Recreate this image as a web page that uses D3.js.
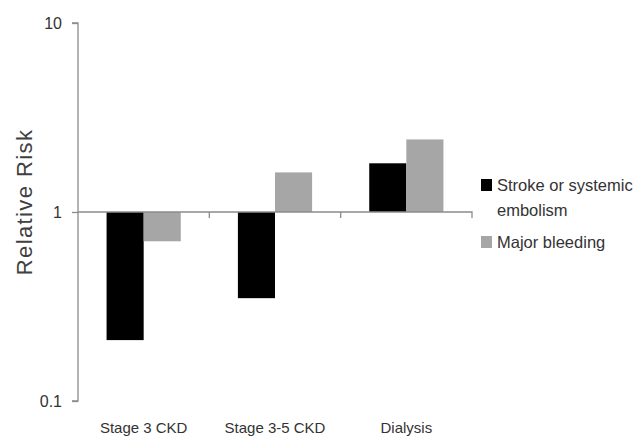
<!DOCTYPE html>
<html>
<head>
<meta charset="utf-8">
<script src="https://cdn.jsdelivr.net/npm/d3@7"></script>
<style>
  body { margin: 0; background: #fff; }
  svg { display: block; font-family: "Liberation Sans Narrow", "Liberation Sans", "DejaVu Sans Condensed", sans-serif; }
</style>
</head>
<body>
<svg id="chart" width="635" height="437"></svg>
<script>
// Relative risk by kidney function group (log scale, bars drawn from RR = 1)
const categories = ["Stage 3 CKD", "Stage 3-5 CKD", "Dialysis"];
const seriesNames = ["Stroke or systemic embolism", "Major bleeding"];
const strokeRR = [0.21, 0.35, 1.81];
const bleedingRR = [0.70, 1.62, 2.42];
const yTicks = [0.1, 1, 10];
const colors = ["#000000", "#a6a6a6"];

const svg = d3.select("#chart");
const plotLeft = 78, plotRight = 472, plotTop = 23, plotBottom = 401;

const x = d3.scaleBand().domain(categories).range([plotLeft, plotRight]).paddingInner(0).paddingOuter(0);
const y = d3.scaleLog().domain([0.1, 10]).range([plotBottom, plotTop]);
const inner = d3.scaleBand().domain(seriesNames).range([0, x.bandwidth()]).paddingInner(0).paddingOuter(0.77);

const rows = categories.map((c, i) => ({ cat: c, vals: [strokeRR[i], bleedingRR[i]] }));

// Bars grow up or down from the RR = 1 reference
const groups = svg.append("g").selectAll("g").data(rows).join("g")
  .attr("transform", d => `translate(${x(d.cat)},0)`);
groups.selectAll("rect").data(d => d.vals.map((v, j) => ({ v, s: seriesNames[j], j })))
  .join("rect")
  .attr("x", d => inner(d.s))
  .attr("width", inner.bandwidth())
  .attr("y", d => Math.min(y(d.v), y(1)))
  .attr("height", d => Math.abs(y(d.v) - y(1)))
  .attr("fill", d => colors[d.j]);

// Y axis
const yAxis = d3.axisLeft(y).tickValues(yTicks).tickFormat(d => String(d)).tickSize(6).tickPadding(10);
const ya = svg.append("g").attr("transform", `translate(${plotLeft},0)`).call(yAxis);
ya.select(".domain").attr("stroke", "#8c8c8c").attr("stroke-width", 1.3).attr("d", `M-6,${plotTop}H0V${plotBottom}H-6`);
ya.selectAll(".tick line").attr("stroke", "#8c8c8c").attr("stroke-width", 1.3);
ya.selectAll(".tick text").attr("fill", "#333").style("font-size", "16px");

// Category axis along RR = 1
const xAxis = d3.axisBottom(x).tickSize(6).tickFormat("");
const xa = svg.append("g").attr("transform", `translate(0,${y(1)})`).call(xAxis);
xa.select(".domain").attr("stroke", "#8c8c8c").attr("stroke-width", 1.3).attr("d", `M${plotLeft},0H${plotRight}V6`);
xa.selectAll(".tick").remove();
const boundaries = categories.map(c => x(c) + x.bandwidth()).slice(0, -1);
xa.selectAll("line.sep").data(boundaries).join("line").attr("class", "sep")
  .attr("x1", d => d).attr("x2", d => d).attr("y1", 0).attr("y2", 6)
  .attr("stroke", "#8c8c8c").attr("stroke-width", 1.3);

// Category labels below the plot
svg.append("g").selectAll("text").data(categories).join("text")
  .attr("x", d => x(d) + x.bandwidth() / 2)
  .attr("y", 433)
  .attr("text-anchor", "middle")
  .attr("fill", "#333")
  .style("font-size", "15px")
  .text(d => d);

// Axis title
svg.append("text")
  .attr("transform", "translate(32,202) rotate(-90)")
  .attr("text-anchor", "middle")
  .attr("fill", "#404040")
  .style("font-size", "22px")
  .style("letter-spacing", "1.4px")
  .style("font-family", "'Liberation Sans', sans-serif")
  .text("Relative Risk");

// Legend
const legend = svg.append("g");
const legendItems = [
  { lines: ["Stroke or systemic", "embolism"], color: colors[0], y: 179 },
  { lines: ["Major bleeding"], color: colors[1], y: 236 }
];
legendItems.forEach(it => {
  legend.append("rect").attr("x", 481).attr("y", it.y).attr("width", 11).attr("height", 12).attr("fill", it.color);
  it.lines.forEach((t, k) => {
    legend.append("text")
      .attr("x", 497).attr("y", it.y + 12 + k * 25)
      .attr("fill", "#333").style("font-size", "16.5px").text(t);
  });
});
</script>
</body>
</html>
